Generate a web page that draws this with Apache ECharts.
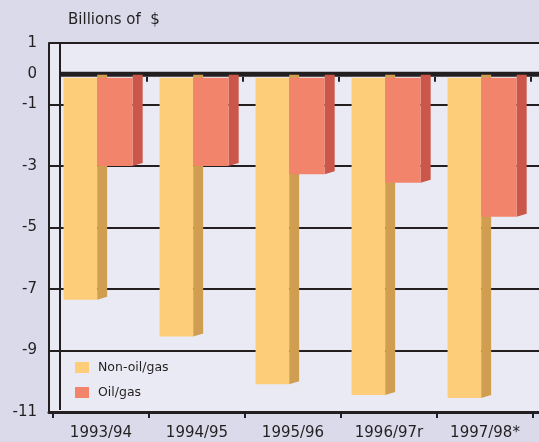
<!DOCTYPE html>
<html>
<head>
<meta charset="utf-8">
<script src="https://cdn.jsdelivr.net/npm/echarts@6/dist/echarts.min.js"></script>
<style>
html,body{margin:0;padding:0;background:#DADAEA;}
#chart{width:539px;height:442px;}
</style>
</head>
<body>
<div id="chart"></div>
<script>
const categories = ['1993/94', '1994/95', '1995/96', '1996/97r', '1997/98*'];
const nonOilGas = [-7.25, -8.45, -10.0, -10.35, -10.45];
const oilGas = [-2.9, -2.9, -3.17, -3.45, -4.55];
const yTickLabels = [1, 0, -1, -3, -5, -7, -9, -11];
const yTickMarks = [1, -1, -3, -5, -7, -9, -11];
const seriesNames = ['Non-oil/gas', 'Oil/gas'];

const catCenters = categories.map((c, i) => i);
const catBounds = [-0.5, 0.5, 1.5, 2.5, 3.5, 4.5];

const FONT = 'DejaVu Sans';
const DARK = '#231F20';

function barRenderer(fromFrac, toFrac, face, side) {
  return function (params, api) {
    const cat = api.value(0), v = api.value(1);
    const base = api.coord([cat, 0]);
    const end = api.coord([cat, v]);
    const bw = api.size([1, 0])[0];
    const start = base[0] - bw / 2;
    const x1 = start + bw * fromFrac, x2 = start + bw * toFrac;
    const yTop = base[1] + 4, yBot = end[1] + 3;
    const d = 10, r = 3;
    return {
      type: 'group',
      children: [
        { type: 'polygon', shape: { points: [[x2, yTop - r], [x2 + d, yTop - r], [x2 + d, yBot - r], [x2, yBot]] }, style: { fill: side } },
        { type: 'rect', shape: { x: x1, y: yTop, width: x2 - x1, height: yBot - yTop }, style: { fill: face } }
      ]
    };
  };
}

function floorRenderer(params, api) {
  const cat = api.value(0);
  const base = api.coord([cat, 0]);
  const bw = api.size([1, 0])[0];
  const start = base[0] - bw / 2;
  return {
    type: 'group',
    children: [
      { type: 'rect', shape: { x: start + 8, y: base[1] - 2, width: bw, height: 5 }, style: { fill: DARK } },
      { type: 'rect', shape: { x: start + bw - 3, y: base[1] + 3, width: 2, height: 5 }, style: { fill: DARK } }
    ]
  };
}

const chart = echarts.init(document.getElementById('chart'), null, { renderer: 'canvas' });
chart.setOption({
  backgroundColor: '#DADAEA',
  animation: false,
  title: {
    text: 'Billions of  $',
    left: 63, top: 8,
    textStyle: { fontFamily: FONT, fontSize: 15, fontWeight: 'normal', color: DARK }
  },
  legend: {
    data: seriesNames,
    orient: 'vertical',
    left: 70, top: 356,
    icon: 'rect',
    itemWidth: 14, itemHeight: 11, itemGap: 12,
    textStyle: { fontFamily: FONT, fontSize: 12.5, color: DARK, padding: [0, 0, 0, 4] }
  },
  grid: {
    left: 49, top: 43, width: 490, height: 369,
    outerBoundsMode: 'none',
    show: true, backgroundColor: '#EAEAF4', borderWidth: 0
  },
  graphic: [
    { type: 'line', shape: { x1: 60, y1: 43, x2: 60, y2: 410 }, style: { stroke: DARK, lineWidth: 2 }, z: 1 }
  ],
  xAxis: {
    type: 'value',
    min: -0.5 - 4 / 96, max: 4.5625,
    axisLine: { show: true, onZero: false, lineStyle: { color: DARK, width: 3 } },
    axisTick: { show: true, length: 6, customValues: catBounds, lineStyle: { color: DARK, width: 2 } },
    axisLabel: {
      fontFamily: FONT, fontSize: 15, color: DARK, margin: 14,
      customValues: catCenters,
      formatter: (v) => categories[Math.round(v)]
    },
    splitLine: { show: false }
  },
  yAxis: {
    type: 'value',
    min: -11, max: 1, interval: 2,
    axisLine: { show: true, onZero: false, lineStyle: { color: DARK, width: 2 } },
    axisTick: { show: true, inside: true, length: 11, customValues: yTickMarks, lineStyle: { color: DARK, width: 2 } },
    axisLabel: { fontFamily: FONT, fontSize: 15, color: DARK, margin: 12, customValues: yTickLabels },
    splitLine: { show: true, lineStyle: { color: DARK, width: 2 } }
  },
  series: [
    {
      name: 'floor', type: 'custom', renderItem: floorRenderer,
      data: catCenters.map((i) => [i, 0]), encode: { x: 0, y: 1 }, silent: true, z: 2
    },
    {
      name: seriesNames[0], type: 'custom',
      renderItem: barRenderer(0.11, 0.46, '#FDCD7A', '#D09E50'),
      itemStyle: { color: '#FDCD7A' },
      data: nonOilGas.map((v, i) => [i, v]), encode: { x: 0, y: 1 }, z: 3
    },
    {
      name: seriesNames[1], type: 'custom',
      renderItem: barRenderer(0.46, 0.83, '#F2846C', '#CB574A'),
      itemStyle: { color: '#F2846C' },
      data: oilGas.map((v, i) => [i, v]), encode: { x: 0, y: 1 }, z: 4
    }
  ]
});
</script>
</body>
</html>
